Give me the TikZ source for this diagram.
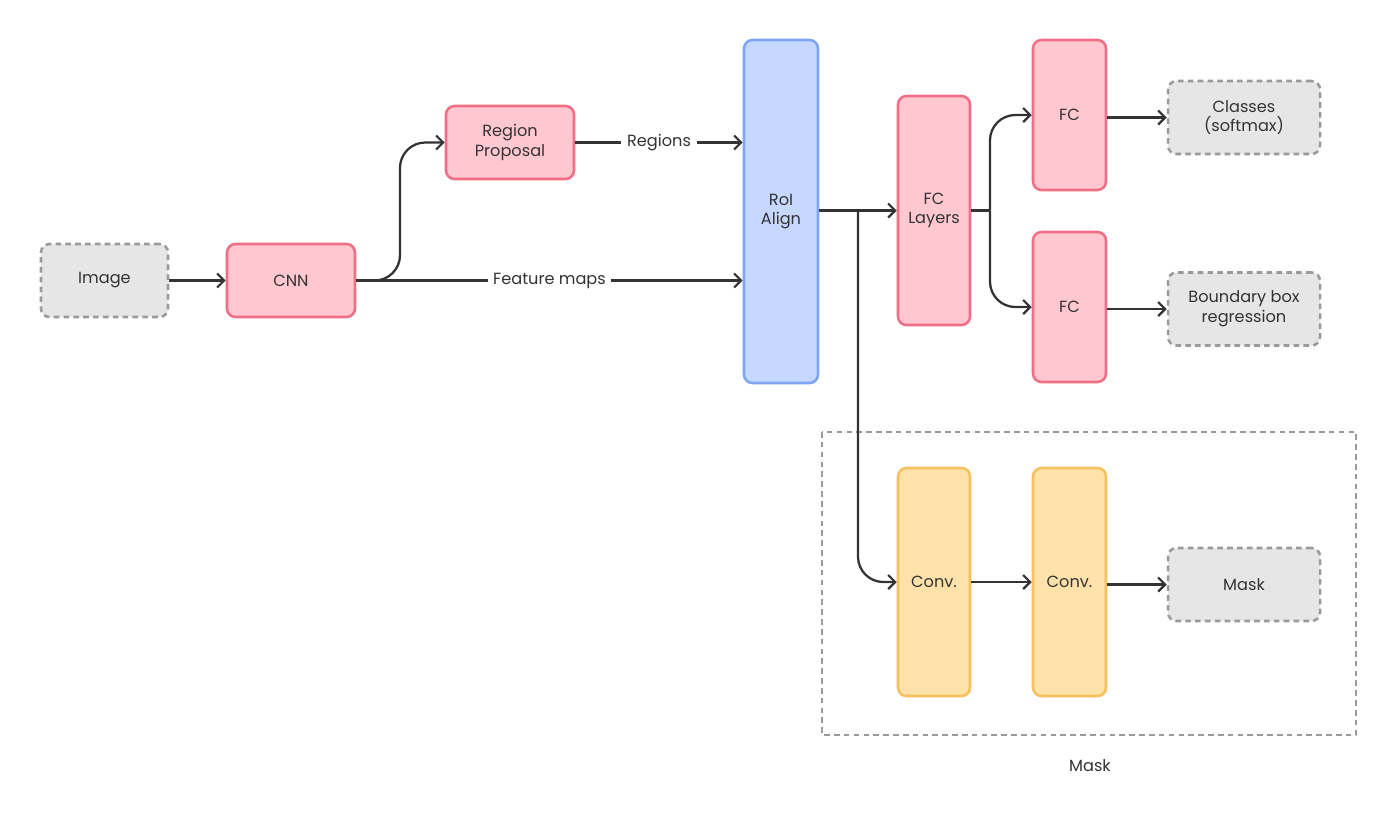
\documentclass[tikz,border=0pt]{standalone}
\usepackage{fontspec}
\setmainfont{Poppins}
\usetikzlibrary{arrows.meta}
\definecolor{pinkf}{HTML}{FFC7D0}
\definecolor{pinkd}{HTML}{F06E86}
\definecolor{bluef}{HTML}{C6D8FF}
\definecolor{blued}{HTML}{7EA4F6}
\definecolor{yelf}{HTML}{FFE2AA}
\definecolor{yeld}{HTML}{F8C05C}
\definecolor{grayf}{HTML}{E6E6E6}
\definecolor{grayd}{HTML}{9A9A9A}
\definecolor{ln}{HTML}{333333}
\tikzset{
 base/.style={rounded corners=6pt, line width=1.8pt, align=center, font=\fontsize{11.5pt}{14pt}\selectfont, text=ln, inner sep=0pt},
 pinkbox/.style={base, fill=pinkf, draw=pinkd},
 bluebox/.style={base, fill=bluef, draw=blued},
 yelbox/.style={base, fill=yelf, draw=yeld},
 graybox/.style={base, fill=grayf, draw=grayd, dash pattern=on 4pt off 3pt},
 arr/.style={draw=ln, line width=1.6pt, -{Straight Barb[length=5pt,width=10pt]}},
 lbl/.style={fill=white, inner sep=4pt, text=ln, font=\fontsize{11.5pt}{14pt}\selectfont},
}
\begin{document}
\begin{tikzpicture}[x=0.025cm,y=-0.025cm]
\fill[white] (0,0) rectangle (1400,816);
\useasboundingbox (0,0) rectangle (1400,816);
\draw[grayd, line width=1.8pt, dash pattern=on 4pt off 3pt] (822,432) rectangle (1356,735);
\node[text=ln, font=\fontsize{11.5pt}{14pt}\selectfont] (masklbl) at (1090,766) {Mask};
\node[graybox, minimum width=127*0.025cm, minimum height=73*0.025cm] (img) at (104.5,280.5) {Image};
\node[pinkbox, minimum width=128*0.025cm, minimum height=73*0.025cm] (cnn) at (291,280.5) {CNN};
\node[pinkbox, minimum width=128*0.025cm, minimum height=73*0.025cm] (rp) at (510,142.5) {Region\\Proposal};
\node[bluebox, minimum width=74*0.025cm, minimum height=343*0.025cm] (roi) at (781,211.5) {RoI\\Align};
\node[pinkbox, minimum width=72*0.025cm, minimum height=229*0.025cm] (fcl) at (934,210.5) {FC\\Layers};
\node[pinkbox, minimum width=73*0.025cm, minimum height=150*0.025cm] (fc1) at (1069.5,115) {FC};
\node[pinkbox, minimum width=73*0.025cm, minimum height=150*0.025cm] (fc2) at (1069.5,307) {FC};
\node[graybox, minimum width=152*0.025cm, minimum height=73*0.025cm] (cls) at (1244,117.5) {Classes\\(softmax)};
\node[graybox, minimum width=152*0.025cm, minimum height=73*0.025cm] (bbr) at (1244,309) {Boundary box\\regression};
\node[yelbox, minimum width=72*0.025cm, minimum height=228*0.025cm] (cv1) at (934,582) {Conv.};
\node[yelbox, minimum width=73*0.025cm, minimum height=228*0.025cm] (cv2) at (1069.5,582) {Conv.};
\node[graybox, minimum width=152*0.025cm, minimum height=73*0.025cm] (msk) at (1244,584.5) {Mask};

\draw[arr] (img.east) -- (cnn.west);
\draw[arr] (cnn.east) -- node[lbl]{Feature maps} (cnn.east -| roi.west);
\draw[arr, rounded corners=18pt] (cnn.east) -| (400,200) |- (rp.west);
\draw[arr] (rp.east) -- node[lbl]{Regions} (rp.east -| roi.west);
\draw[arr] (roi.east |- fcl.west) -- (fcl.west);
\coordinate (br) at (858,210.5);
\draw[arr, rounded corners=18pt] (br) |- (cv1.west);
\coordinate (sp) at (990,210.5);
\draw[draw=ln, line width=1.6pt] (fcl.east) -- (sp);
\draw[arr, rounded corners=18pt] (sp) |- (fc1.west);
\draw[arr, rounded corners=18pt] (sp) |- (fc2.west);
\draw[arr] (fc1.east |- cls.west) -- (cls.west);
\draw[arr] (fc2.east |- bbr.west) -- (bbr.west);
\draw[arr] (cv1.east) -- (cv2.west);
\draw[arr] (cv2.east |- msk.west) -- (msk.west);
\end{tikzpicture}
\end{document}
